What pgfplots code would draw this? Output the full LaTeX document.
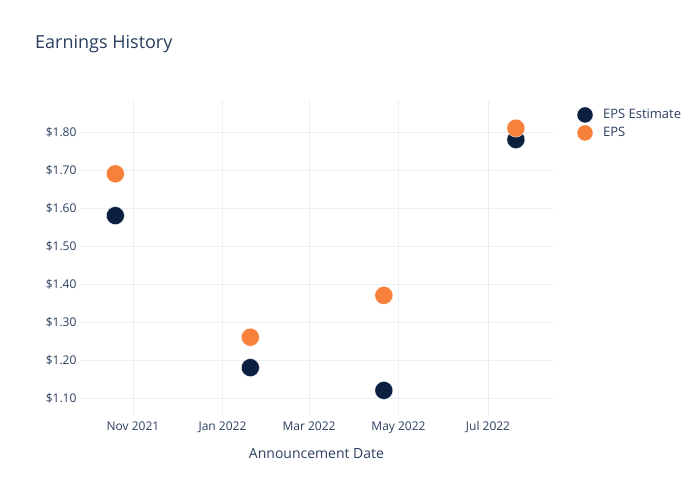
\documentclass[border=0pt]{standalone}
\usepackage{pgfplots}
\pgfplotsset{compat=1.18}
\usepackage{fontspec}
\setmainfont{Open Sans}
\definecolor{txt}{HTML}{2A3F5F}
\definecolor{gridc}{HTML}{EBF0F8}
\definecolor{navy}{HTML}{0B1F40}
\definecolor{orng}{HTML}{F7803A}
\begin{document}
\begin{tikzpicture}
\useasboundingbox[fill=white] (0pt,0pt) rectangle (700pt,500pt);
\node[anchor=west,inner xsep=0pt,text=txt,font=\fontsize{18}{21}\selectfont] at (35pt,456pt) {Earnings History};
\begin{axis}[
  at={(80pt,85pt)}, anchor=south west,
  width=473pt, height=315pt, scale only axis,
  xmin=-36.1, xmax=286.3, ymin=1.0553, ymax=1.8842,
  separate axis lines,
  axis x line*=bottom, axis y line*=left,
  axis line style={draw=none},
  tick style={draw=none},
  grid=major, grid style={gridc, line width=0.8pt},
  xtick={0,61,120,181,242},
  xticklabels={Nov 2021,Jan 2022,Mar 2022,May 2022,Jul 2022},
  ytick={1.1,1.2,1.3,1.4,1.5,1.6,1.7,1.8},
  yticklabels={\$1.10,\$1.20,\$1.30,\$1.40,\$1.50,\$1.60,\$1.70,\$1.80},
  /pgf/number format/assume math mode=true,
  ticklabel style={text=txt,font=\fontsize{12}{14}\selectfont},
  xticklabel style={yshift=-3pt},
  xlabel={Announcement Date},
  xlabel style={text=txt,font=\fontsize{14}{16}\selectfont, yshift=-8pt},
  legend style={at={(1.044,0.985)}, anchor=north west, draw=none, fill=none,
    font=\fontsize{13}{15}\selectfont, text=txt, row sep=2pt,
    legend cell align=left,
    nodes={inner xsep=10pt}},
  legend image code/.code={\draw[#1, mark size=8pt] plot coordinates {(0.35cm,0cm)};},
]
\addplot[only marks, mark=*, mark size=9pt, mark options={draw=white, line width=0.3pt, fill=navy}, color=navy]
  coordinates {(-12,1.58) (80,1.18) (171,1.12) (261,1.78)};
\addlegendentry{EPS Estimate}
\addplot[only marks, mark=*, mark size=9pt, mark options={draw=white, line width=0.3pt, fill=orng}, color=orng]
  coordinates {(-12,1.69) (80,1.26) (171,1.37) (261,1.81)};
\addlegendentry{EPS}
\end{axis}
\end{tikzpicture}
\end{document}
